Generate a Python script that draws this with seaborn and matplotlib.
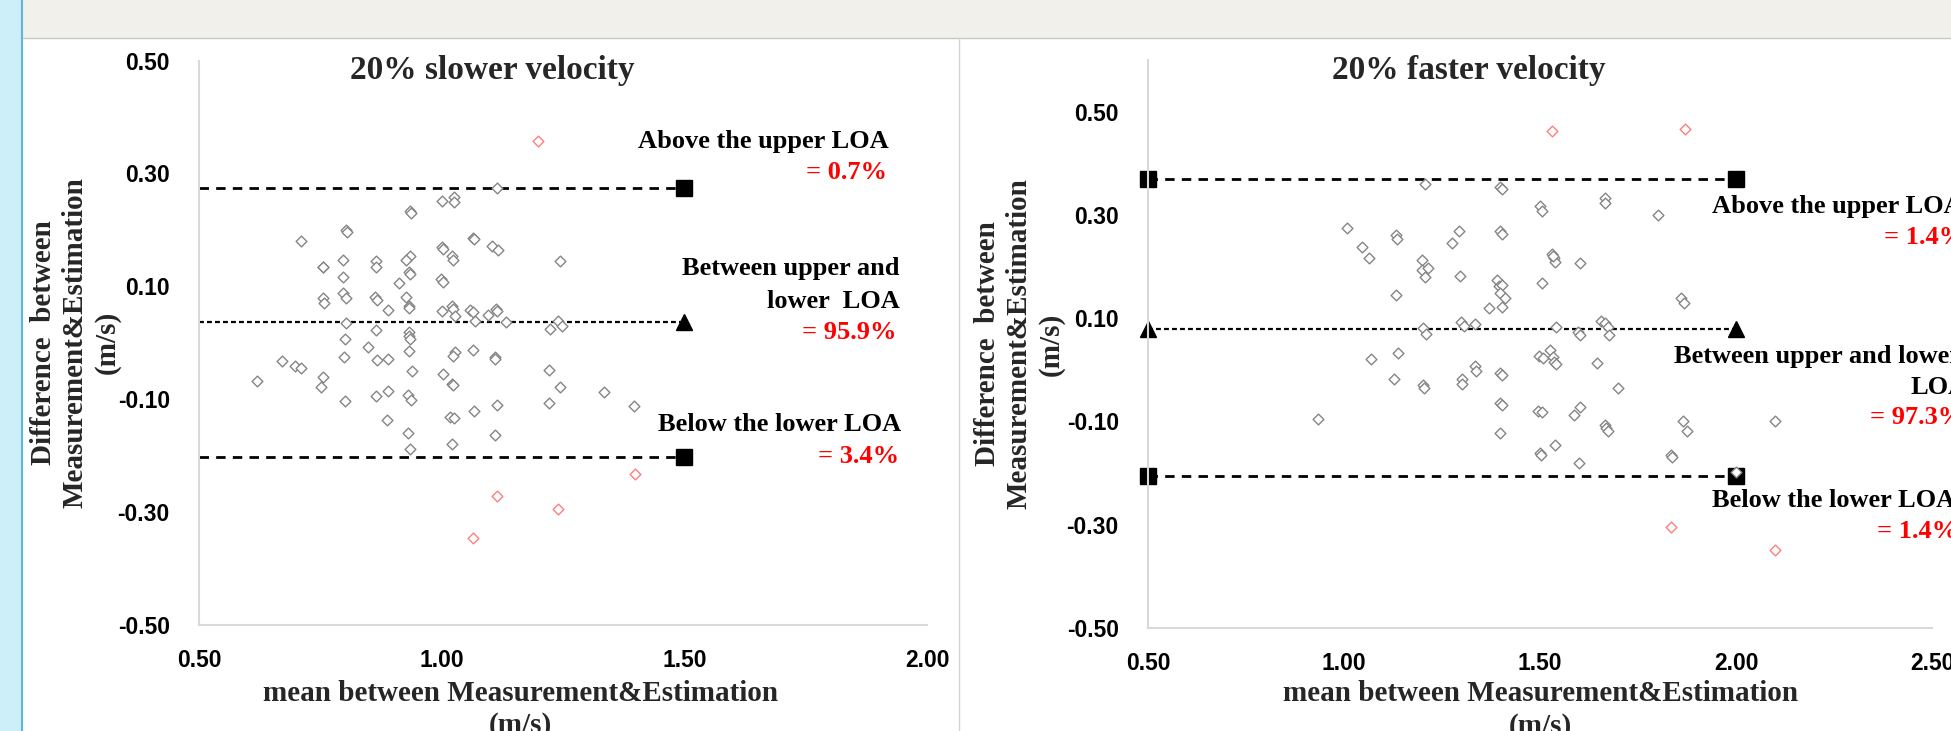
import matplotlib
matplotlib.use("Agg")
import matplotlib.pyplot as plt
from matplotlib.patches import Rectangle
from matplotlib.lines import Line2D
import numpy as np
import pandas as pd
import seaborn as sns

# ── Data: 20% slower velocity ───────────────────────────────────────────────
SLOW_MEAN = [
    1.199, 1.065, 1.114, 1.240, 1.399, 1.115, 1.000, 1.025, 1.025, 0.934,
    0.936, 0.711, 0.803, 0.804, 1.065, 1.066, 1.000, 1.002, 1.103, 1.116,
    0.755, 0.756, 0.797, 0.864, 0.864, 0.934, 0.927, 1.021, 1.023, 1.244,
    0.933, 0.935, 0.797, 0.912, 0.998, 1.003, 0.797, 0.803, 0.755, 0.758,
    0.863, 0.867, 0.926, 0.933, 0.933, 0.889, 1.021, 1.023, 1.000, 1.058,
    1.065, 1.028, 1.095, 1.111, 1.115, 1.069, 1.133, 0.803, 1.240, 1.248,
    1.224, 0.864, 0.801, 0.933, 0.933, 0.935, 0.849, 1.027, 1.024, 1.065,
    0.933, 0.799, 1.109, 1.110, 0.867, 0.890, 0.671, 0.697, 0.710, 0.939,
    1.222, 1.002, 0.756, 0.620, 1.021, 1.024, 0.751, 1.243, 1.334, 0.890,
    0.864, 0.931, 0.936, 0.800, 1.114, 1.221, 1.397, 0.888, 1.018, 1.025,
    1.067, 0.930, 1.110, 1.021, 0.934,
]
SLOW_DIFF = [
    0.357, -0.345, -0.272, -0.295, -0.232, 0.274, 0.252, 0.258, 0.250, 0.234,
    0.230, 0.180, 0.200, 0.197, 0.186, 0.184, 0.169, 0.167, 0.172, 0.164,
    0.135, 0.134, 0.147, 0.145, 0.135, 0.154, 0.146, 0.154, 0.147, 0.145,
    0.126, 0.122, 0.116, 0.106, 0.113, 0.107, 0.089, 0.079, 0.079, 0.070,
    0.082, 0.076, 0.081, 0.066, 0.062, 0.059, 0.065, 0.060, 0.056, 0.058,
    0.054, 0.047, 0.050, 0.060, 0.057, 0.039, 0.037, 0.035, 0.038, 0.029,
    0.024, 0.023, 0.006, 0.019, 0.012, 0.007, -0.007, -0.017, -0.023, -0.012,
    -0.015, -0.025, -0.025, -0.028, -0.031, -0.028, -0.033, -0.041, -0.045, -0.050,
    -0.048, -0.056, -0.060, -0.067, -0.073, -0.075, -0.079, -0.078, -0.087, -0.085,
    -0.095, -0.093, -0.102, -0.104, -0.111, -0.107, -0.112, -0.136, -0.131, -0.134,
    -0.121, -0.160, -0.164, -0.179, -0.188,
]
SLOW_LOA = [0.275, 0.036, -0.202]          # upper, mean, lower
SLOW_LINE_X = [0.5, 1.5]

# ── Data: 20% faster velocity ───────────────────────────────────────────────
FAST_MEAN = [
    1.530, 1.869, 1.834, 2.099, 1.206, 1.399, 1.403, 1.501, 1.504, 1.667,
    1.667, 1.800, 1.007, 1.133, 1.136, 1.294, 1.398, 1.403, 1.047, 1.275,
    1.065, 1.199, 1.198, 1.206, 1.215, 1.530, 1.536, 1.539, 1.533, 1.603,
    1.296, 1.504, 1.391, 1.396, 1.403, 1.399, 1.410, 1.370, 1.404, 1.133,
    1.860, 1.868, 1.202, 1.209, 1.298, 1.306, 1.335, 1.541, 1.596, 1.603,
    1.655, 1.667, 1.674, 1.677, 1.068, 1.138, 1.498, 1.508, 1.525, 1.533,
    1.535, 1.541, 1.645, 1.333, 1.336, 1.399, 1.404, 1.128, 1.301, 1.301,
    1.201, 1.204, 1.700, 1.399, 1.403, 1.601, 1.496, 1.506, 1.587, 0.933,
    2.100, 1.864, 1.666, 1.669, 1.674, 1.874, 1.399, 1.537, 1.500, 1.503,
    1.834, 1.837, 1.600, 2.000,
]
FAST_DIFF = [
    0.462, 0.467, -0.304, -0.349, 0.359, 0.355, 0.351, 0.317, 0.308, 0.333,
    0.324, 0.300, 0.275, 0.261, 0.254, 0.269, 0.269, 0.263, 0.238, 0.245,
    0.216, 0.212, 0.194, 0.180, 0.198, 0.225, 0.216, 0.209, 0.220, 0.207,
    0.181, 0.168, 0.173, 0.162, 0.164, 0.149, 0.139, 0.119, 0.122, 0.144,
    0.140, 0.129, 0.081, 0.069, 0.092, 0.085, 0.088, 0.083, 0.074, 0.067,
    0.095, 0.090, 0.083, 0.067, 0.020, 0.032, 0.027, 0.023, 0.038, 0.025,
    0.016, 0.011, 0.013, 0.007, -0.002, -0.007, -0.011, -0.018, -0.018, -0.027,
    -0.030, -0.036, -0.036, -0.064, -0.069, -0.072, -0.079, -0.081, -0.088, -0.096,
    -0.099, -0.100, -0.106, -0.112, -0.119, -0.119, -0.122, -0.146, -0.162, -0.165,
    -0.165, -0.169, -0.180, -0.198,
]
FAST_LOA = [0.370, 0.080, -0.205]
FAST_LINE_X = [0.5, 2.0]

SLOW_XTICKS = [0.5, 1.0, 1.5, 2.0]
FAST_XTICKS = [0.5, 1.0, 1.5, 2.0, 2.5]
YTICKS = [-0.5, -0.3, -0.1, 0.1, 0.3, 0.5]

# ── Style ───────────────────────────────────────────────────────────────────
W, H = 1951, 731
SERIF = ["Liberation Serif", "DejaVu Serif"]
SANS = ["Liberation Sans", "DejaVu Sans"]
GRAY_PT = "#858585"
RED_PT = "#ff7f7f"
RED_TXT = "#ff0000"
AXIS_GRAY = "#d9d9d9"

sns.set_style("white")
plt.rcParams["font.family"] = SANS


def make_frame(mean, diff, loa):
    df = pd.DataFrame({"mean": mean, "diff": diff})
    df["outside"] = (df["diff"] > loa[0]) | (df["diff"] < loa[2])
    return df


def draw_panel(ax, df, loa, line_x, xticks, ylim, markevery):
    # limits of agreement
    ax.plot(line_x, [loa[0]] * 2, color="black", lw=2.0, dashes=(3.4, 2.6),
            marker="s", ms=11, markevery=markevery, zorder=2, clip_on=False)
    ax.plot(line_x, [loa[1]] * 2, color="black", lw=1.6, dashes=(2.2, 1.4),
            marker="^", ms=11, markevery=markevery, zorder=2, clip_on=False)
    ax.plot(line_x, [loa[2]] * 2, color="black", lw=2.0, dashes=(3.4, 2.6),
            marker="s", ms=11, markevery=markevery, zorder=2, clip_on=False)

    inside = df[~df["outside"]]
    outside = df[df["outside"]]
    sns.scatterplot(data=inside, x="mean", y="diff", ax=ax, marker="D", s=30,
                    color="white", edgecolor=GRAY_PT, linewidth=1.0, zorder=3)
    sns.scatterplot(data=outside, x="mean", y="diff", ax=ax, marker="D", s=30,
                    color="white", edgecolor=RED_PT, linewidth=1.0, zorder=3)

    ax.set_xlim(xticks[0], xticks[-1])
    ax.set_ylim(*ylim)
    ax.set_xticks(xticks)
    ax.set_yticks(YTICKS)
    ax.set_xticklabels([f"{v:.2f}" for v in xticks])
    ax.set_yticklabels([f"{v:.2f}" for v in YTICKS])
    for lab in ax.get_xticklabels() + ax.get_yticklabels():
        lab.set_fontweight("bold")
        lab.set_fontsize(16.5)
        lab.set_family(SANS)
    ax.tick_params(axis="both", direction="out", length=6, width=1.2,
                   color=AXIS_GRAY, labelcolor="black")
    ax.tick_params(axis="y", pad=15)
    ax.tick_params(axis="x", pad=11)
    for side in ["top", "right"]:
        ax.spines[side].set_visible(False)
    for side in ["left", "bottom"]:
        ax.spines[side].set_color(AXIS_GRAY)
        ax.spines[side].set_linewidth(1.5)
    ax.set_facecolor("none")

    ax.set_xlabel("mean between Measurement&Estimation\n(m/s)",
                  family=SERIF, fontweight="bold", fontsize=21, linespacing=1.25)
    ax.set_ylabel("Difference  between\nMeasurement&Estimation\n(m/s)",
                  family=SERIF, fontweight="bold", fontsize=21, linespacing=1.22)


def note(ax, x, y, s, color="black", ha="right"):
    ax.text(x, y, s, ha=ha, va="center", family=SERIF, fontweight="bold",
            fontsize=19, color=color, zorder=4, clip_on=False)


fig = plt.figure(figsize=(W / 100, H / 100), dpi=100, facecolor="white")

# slide background: blue strip, beige header band, panel divider
fig.add_artist(Rectangle((0, 0), 22 / W, 1, transform=fig.transFigure,
                         facecolor="#cdeff9", edgecolor="none"))
fig.add_artist(Line2D([22 / W] * 2, [0, 1], transform=fig.transFigure,
                      color="#5bb8dc", lw=1.5))
fig.add_artist(Rectangle((23 / W, 1 - 38 / H), 1, 38 / H, transform=fig.transFigure,
                         facecolor="#f2f0ea", edgecolor="none"))
fig.add_artist(Line2D([23 / W, 1], [1 - 38 / H] * 2, transform=fig.transFigure,
                      color="#c8c8c8", lw=1.0))
fig.add_artist(Line2D([959 / W] * 2, [0, 1 - 38 / H], transform=fig.transFigure,
                      color="#d4d4d4", lw=1.0))

# ── Left panel ──────────────────────────────────────────────────────────────
ax1 = fig.add_axes([199 / W, 1 - 625 / H, 728 / W, 564.4 / H])
slow = make_frame(SLOW_MEAN, SLOW_DIFF, SLOW_LOA)
draw_panel(ax1, slow, SLOW_LOA, SLOW_LINE_X, SLOW_XTICKS, (-0.5, 0.5), [1])
ax1.xaxis.set_label_coords(0.442, -0.097)
ax1.yaxis.set_label_coords(-0.108, 0.5)
ax1.text(0.4025, 0.983, "20% slower velocity", transform=ax1.transAxes,
         ha="center", va="center", family=SERIF, fontweight="bold", fontsize=24)
note(ax1, 1.922, 0.356, "Above the upper LOA")
note(ax1, 1.918, 0.301, "= 0.7%", RED_TXT)
note(ax1, 1.944, 0.131, "Between upper and")
note(ax1, 1.944, 0.074, "lower  LOA")
note(ax1, 1.938, 0.019, "= 95.9%", RED_TXT)
note(ax1, 1.946, -0.144, "Below the lower LOA")
note(ax1, 1.942, -0.201, "= 3.4%", RED_TXT)

# ── Right panel ─────────────────────────────────────────────────────────────
ax2 = fig.add_axes([1148 / W, 1 - 628 / H, 784 / W, 568 / H])
fast = make_frame(FAST_MEAN, FAST_DIFF, FAST_LOA)
draw_panel(ax2, fast, FAST_LOA, FAST_LINE_X, FAST_XTICKS, (-0.5, 0.6), [0, 1])
ax2.xaxis.set_label_coords(0.501, -0.0915)
ax2.yaxis.set_label_coords(-0.106, 0.5)
ax2.text(0.409, 0.982, "20% faster velocity", transform=ax2.transAxes,
         ha="center", va="center", family=SERIF, fontweight="bold", fontsize=24)
note(ax2, 1.939, 0.317, "Above the upper LOA", ha="left")
note(ax2, 2.378, 0.257, "= 1.4%", RED_TXT, ha="left")
note(ax2, 1.842, 0.026, "Between upper and lower", ha="left")
note(ax2, 2.446, -0.034, "LOA", ha="left")
note(ax2, 2.342, -0.092, "= 97.3%", RED_TXT, ha="left")
note(ax2, 1.939, -0.253, "Below the lower LOA", ha="left")
note(ax2, 2.360, -0.313, "= 1.4%", RED_TXT, ha="left")

fig.savefig("out.png", dpi=100)
